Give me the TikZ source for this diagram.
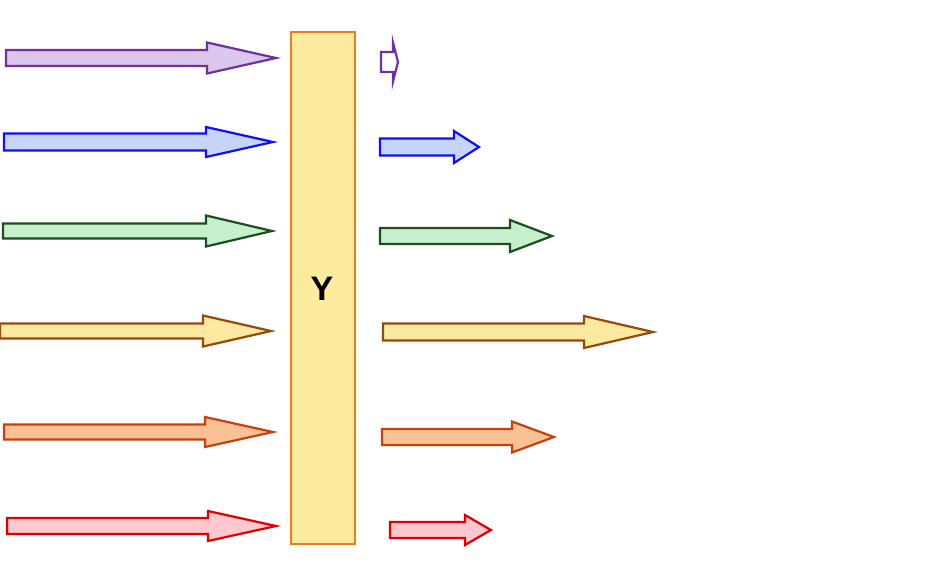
\documentclass[tikz,border=0pt]{standalone}
\usepackage{fontspec}
\setmainfont{Liberation Sans}
\definecolor{pS}{HTML}{7030A0}\definecolor{pF}{HTML}{DCC6EC}
\definecolor{bS}{HTML}{1010F0}\definecolor{bF}{HTML}{C6D4F8}
\definecolor{gS}{HTML}{1E4D1E}\definecolor{gF}{HTML}{C6F0CC}
\definecolor{yS}{HTML}{98480A}\definecolor{yF}{HTML}{FDE9A0}
\definecolor{oS}{HTML}{C8400E}\definecolor{oF}{HTML}{FAC294}
\definecolor{rS}{HTML}{E00000}\definecolor{rF}{HTML}{FFC7CE}
\definecolor{boxS}{HTML}{E87F1E}\definecolor{boxF}{HTML}{FDEBA0}
\tikzset{fat/.style={line width=2.2pt,line join=miter}}
% #1 style colours, #2 x start, #3 x head base, #4 x tip, #5 y centre, #6 shaft half, #7 head half
\newcommand\fatarrow[7]{%
  \draw[fat,#1] (#2,#5-#6) -- (#3,#5-#6) -- (#3,#5-#7) -- (#4,#5) -- (#3,#5+#7) -- (#3,#5+#6) -- (#2,#5+#6) -- cycle;}
\begin{document}
\begin{tikzpicture}[x=1pt,y=-1pt]
\useasboundingbox (0,0) rectangle (940,571);
\node[draw=boxS,fill=boxF,line width=1.8pt,minimum width=64pt,minimum height=512pt,inner sep=0pt] (Y) at (323,288) {};
\node[font=\bfseries\fontsize{34}{34}\selectfont] (Ylab) at (322,289) {Y};
% left arrows
\fatarrow{draw=pS,fill=pF}{6}{207}{276}{58}{8}{15.5}
\fatarrow{draw=bS,fill=bF}{4}{206}{273}{142}{8.5}{15}
\fatarrow{draw=gS,fill=gF}{3}{206}{272}{231}{7.5}{15.5}
\fatarrow{draw=yS,fill=yF}{0}{203}{271}{331}{7.5}{15.5}
\fatarrow{draw=oS,fill=oF}{4}{205}{273}{432}{7.5}{15}
\fatarrow{draw=rS,fill=rF}{7}{208}{276}{526}{8}{15}
% right arrows
\fatarrow{draw=pS,fill=white}{381}{393}{398}{62}{10}{19.5}
\fatarrow{draw=bS,fill=bF}{380}{454}{479}{147}{8.5}{16}
\fatarrow{draw=gS,fill=gF}{380}{510}{552}{236}{8}{16}
\fatarrow{draw=yS,fill=yF}{383}{584}{653}{332}{8.5}{16}
\fatarrow{draw=oS,fill=oF}{382}{512}{554}{437}{8}{15.5}
\fatarrow{draw=rS,fill=rF}{390}{465}{491}{530}{8}{15}
\end{tikzpicture}
\end{document}
